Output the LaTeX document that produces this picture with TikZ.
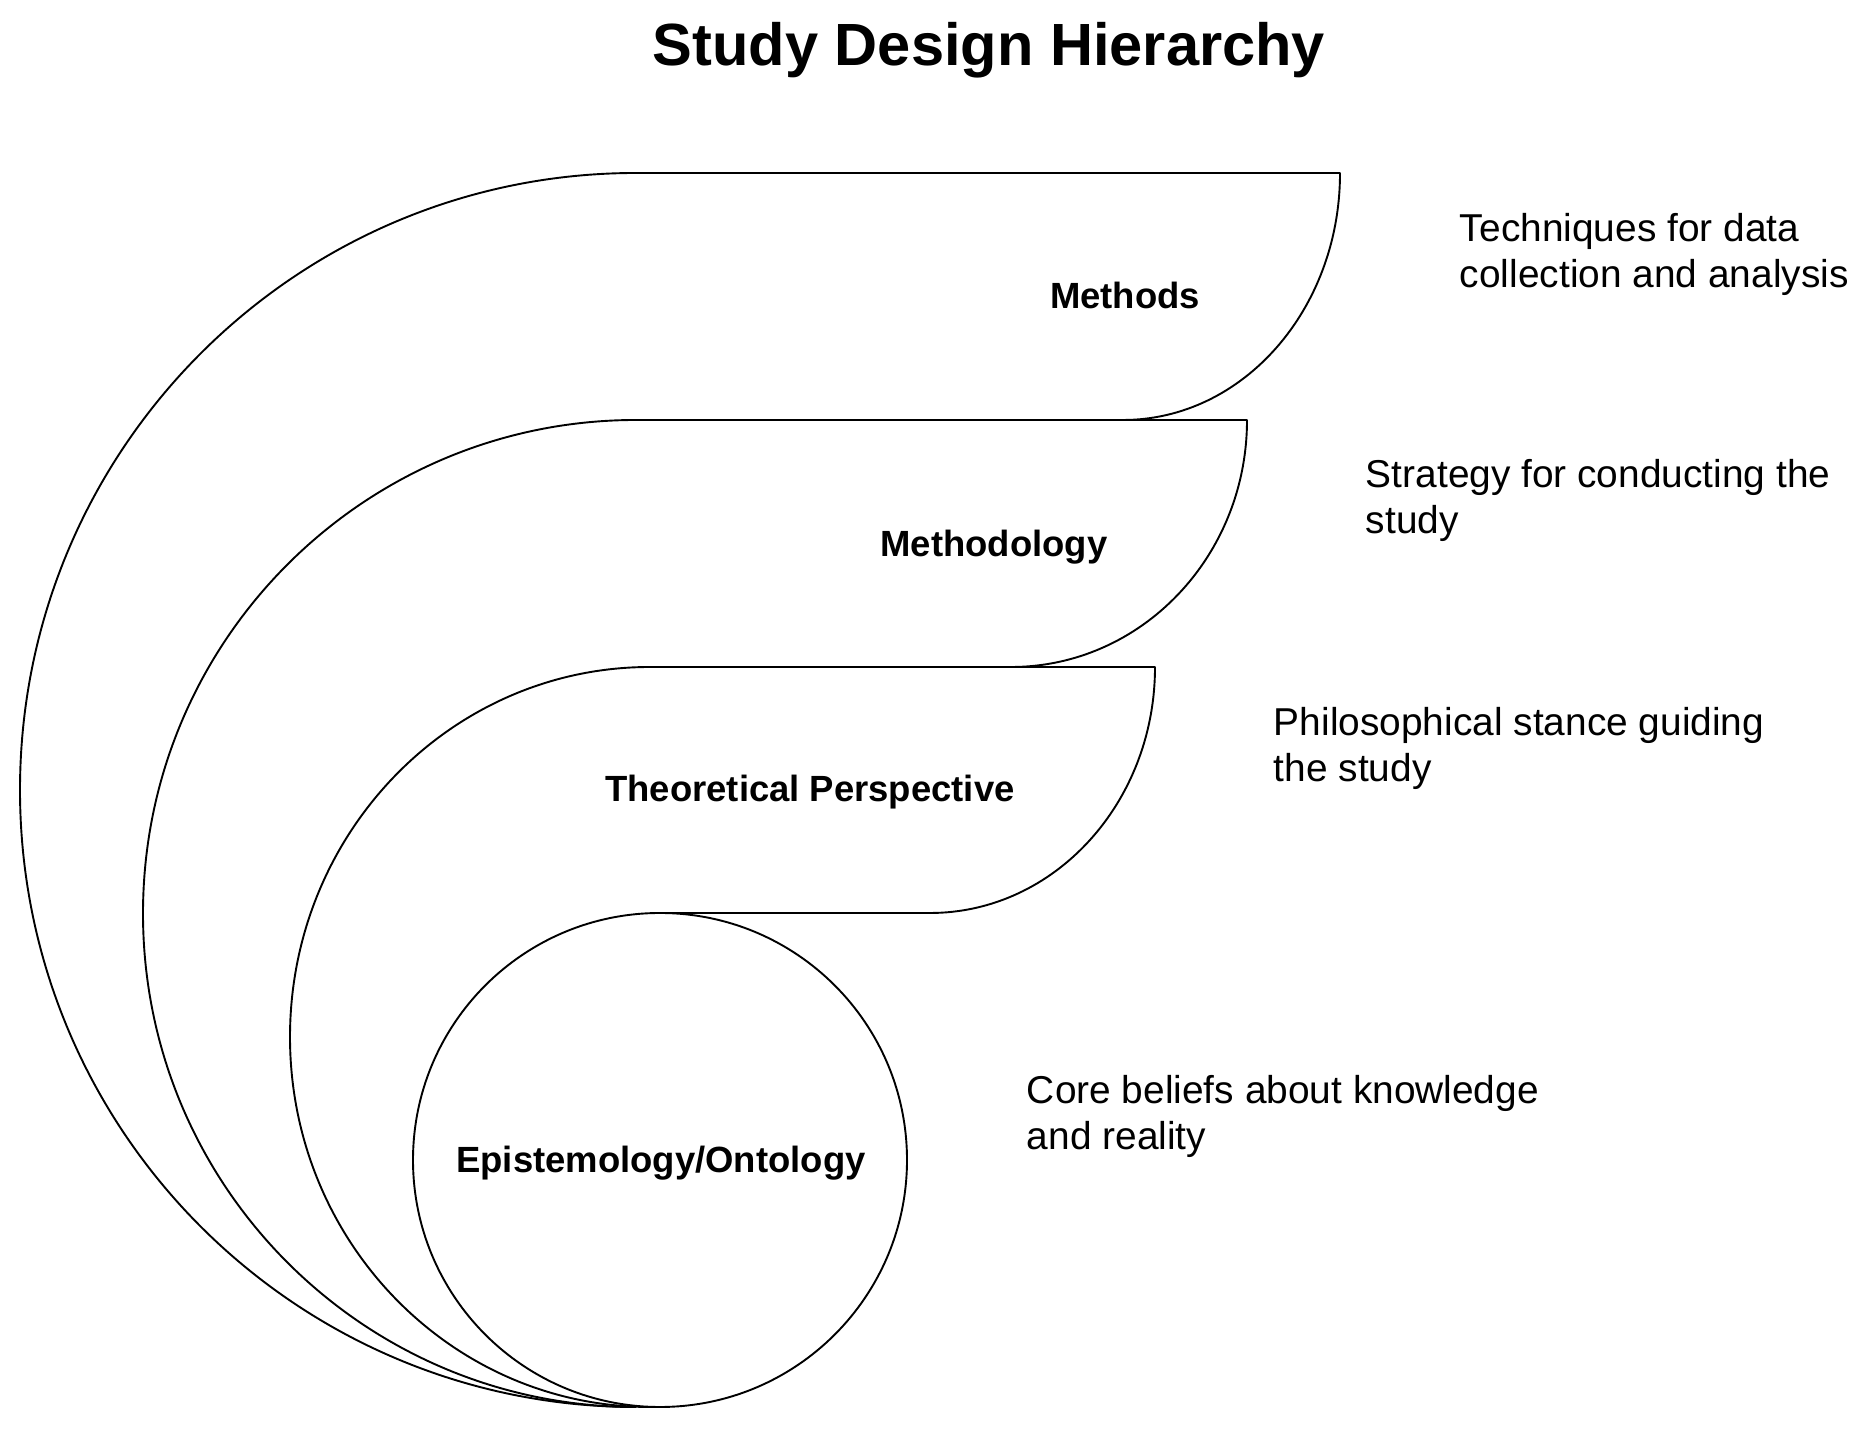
\documentclass[tikz,border=0pt]{standalone}
\usepackage{fontspec}
\setmainfont{Liberation Sans}
\usepackage{tikz}
\usetikzlibrary{arrows}

\begin{document}
\begin{tikzpicture}[>=latex',line join=bevel,
  titletext/.style={anchor=base,inner sep=0pt,font=\fontsize{29.9}{36}\selectfont\bfseries},
  layertext/.style={anchor=base,inner sep=0pt,font=\fontsize{18.3}{22}\selectfont\bfseries},
  desctext/.style={anchor=west,align=left,inner sep=0pt,font=\fontsize{19.5}{23.1}\selectfont},
  layer/.style={fill=white},
  ]
\useasboundingbox (0bp,0bp) rectangle (930bp,715bp);
\pgfsetlinewidth{0.95bp}
\pgfsetcolor{black}
\node[titletext] (title) at (494.5bp,682bp) {Study Design Hierarchy};
\begin{scope}
\definecolor{strokecol}{rgb}{0.0,0.0,0.0};
\pgfsetstrokecolor{strokecol}
\draw [layer] (318bp,11.5bp) arc[start angle=270,end angle=90,x radius=308bp,y radius=308.5bp]
  -- (670bp,628.5bp) arc[start angle=0,end angle=-90,x radius=108.5bp,y radius=123.5bp] -- (318bp,505bp);
\node[layertext] (methods) at (562.5bp,560.5bp) {Methods};
\end{scope}
\begin{scope}
\definecolor{strokecol}{rgb}{0.0,0.0,0.0};
\pgfsetstrokecolor{strokecol}
\draw [layer] (318bp,11.5bp) arc[start angle=270,end angle=90,x radius=246.5bp,y radius=246.75bp]
  -- (623.5bp,505bp) arc[start angle=0,end angle=-90,x radius=118bp,y radius=123.5bp] -- (325bp,381.5bp);
\node[layertext] (methodology) at (497bp,436.5bp) {Methodology};
\end{scope}
\begin{scope}
\definecolor{strokecol}{rgb}{0.0,0.0,0.0};
\pgfsetstrokecolor{strokecol}
\draw [layer] (325bp,11.5bp) arc[start angle=270,end angle=90,x radius=180bp,y radius=185bp]
  -- (577.5bp,381.5bp) arc[start angle=0,end angle=-90,x radius=112.5bp,y radius=123bp] -- (330bp,258.5bp);
\node[layertext] (theory) at (405bp,314bp) {Theoretical Perspective};
\end{scope}
\begin{scope}
\definecolor{strokecol}{rgb}{0.0,0.0,0.0};
\pgfsetstrokecolor{strokecol}
\draw [layer] (330bp,135bp) circle (123.5bp);
\node[layertext] (episteme) at (330.5bp,128.5bp) {Epistemology/Ontology};
\end{scope}
\node[desctext] (methodsnote) at (729.5bp,588bp) {Techniques for data\\collection and analysis};
\node[desctext] (methodologynote) at (682.5bp,464.6bp) {Strategy for conducting the\\study};
\node[desctext] (theorynote) at (636.5bp,341bp) {Philosophical stance guiding\\the study};
\node[desctext] (epistemenote) at (513bp,156.6bp) {Core beliefs about knowledge\\and reality};
\end{tikzpicture}
\end{document}
